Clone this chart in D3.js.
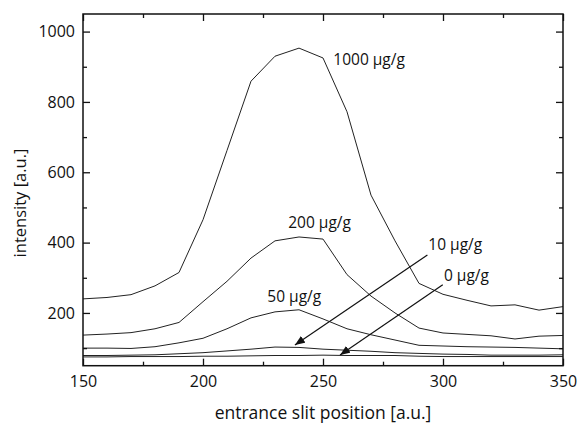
<!DOCTYPE html>
<html>
<head>
<meta charset="utf-8">
<script src="https://cdn.jsdelivr.net/npm/d3@7"></script>
<style>
  html, body { margin: 0; padding: 0; background: #fff; }
  svg { display: block; }
  text { font-family: "Open Sans", "Noto Sans", sans-serif; fill: #111; }
</style>
</head>
<body>
<svg id="chart" width="578" height="423"></svg>
<script>
// ---- data ----
const positions = [150,160,170,180,190,200,210,220,230,240,250,260,270,280,290,300,310,320,330,340,350];
const conc1000 = [240,244,252,277,315,465,662,859,930,953,925,772,535,405,284,253,236,220,223,208,218];
const conc200  = [137,140,144,155,173,232,290,356,405,416,410,309,248,200,157,143,139,135,126,134,136];
const conc50   = [100,100,99,104,115,128,155,186,203,209,183,155,138,123,108,106,104,103,102,100,98];
const conc10   = [79,79,80,81,84,87,92,97,103,102,97,94,91,87,85,83,82,80,80,80,81];
const conc0    = [75,75,76,76,76,77,77,78,79,79,80,79,79,79,77,76,76,76,76,76,76];
const seriesNames = ["1000 µg/g","200 µg/g","50 µg/g","10 µg/g","0 µg/g"];
const seriesValues = [conc1000, conc200, conc50, conc10, conc0];
// label anchor points (data coords): [x, y]
const labelPos = [[254.3,921],[235.5,458],[226.8,246],[293.9,395],[300.4,306]];
// arrows for the two low series (data coords): [fromX, fromY, toX, toY]
const arrows = [[293.5,365,238.3,109],[299.9,280,257.1,80.5]];
const xTicks = [150,200,250,300,350];
const xMinor = [175,225,275,325];
const yTicks = [200,400,600,800,1000];
const yMinor = [100,300,500,700,900];
const xTitle = "entrance slit position [a.u.]";
const yTitle = "intensity [a.u.]";

// ---- layout ----
const L = 83, R = 563, T = 14, B = 365.7;
const FONT = "'Open Sans', 'Noto Sans', sans-serif";
const svg = d3.select("#chart");
const x = d3.scaleLinear().domain([150,350]).range([L,R]);
const y = d3.scaleLinear().domain([50,1050]).range([B,T]);

const defs = svg.append("defs");
defs.append("marker")
  .attr("id","arrowhead").attr("viewBox","0 0 10 8")
  .attr("refX",10).attr("refY",4)
  .attr("markerWidth",10).attr("markerHeight",8)
  .attr("markerUnits","userSpaceOnUse")
  .attr("orient","auto")
  .append("path").attr("d","M0,0 L10,4 L0,8 Z").attr("fill","#111");

// curves
const line = d3.line().x((d,i)=>x(positions[i])).y(d=>y(d));
svg.append("g").selectAll("path").data(seriesValues).join("path")
  .attr("d", line).attr("fill","none").attr("stroke","#222").attr("stroke-width",1);

// arrows
svg.append("g").selectAll("line").data(arrows).join("line")
  .attr("x1",d=>x(d[0])).attr("y1",d=>y(d[1]))
  .attr("x2",d=>x(d[2])).attr("y2",d=>y(d[3]))
  .attr("stroke","#111").attr("stroke-width",1.2)
  .attr("marker-end","url(#arrowhead)");

// labels
svg.append("g").selectAll("text").data(seriesNames).join("text")
  .attr("x",(d,i)=>x(labelPos[i][0])).attr("y",(d,i)=>y(labelPos[i][1]))
  .attr("dy","0.36em").attr("font-size",15.5).attr("font-weight",500).text(d=>d);

// axes
function styleAxis(g){
  g.select(".domain").remove();
  g.selectAll(".tick line").attr("stroke","#111").attr("stroke-width",1.3);
  g.selectAll(".tick text").attr("font-size",16).attr("fill","#111")
    .attr("font-weight",500).attr("font-family",FONT);
}
svg.append("g").attr("transform",`translate(0,${B})`)
  .call(d3.axisBottom(x).tickValues(xTicks).tickSize(-7).tickPadding(9.5).tickFormat(d3.format("d")))
  .call(styleAxis);
svg.append("g").attr("transform",`translate(0,${B})`)
  .call(d3.axisBottom(x).tickValues(xMinor).tickSize(-4).tickFormat(""))
  .call(styleAxis);
svg.append("g").attr("transform",`translate(0,${T})`)
  .call(d3.axisTop(x).tickValues(xTicks).tickSize(-7).tickFormat(""))
  .call(styleAxis);
svg.append("g").attr("transform",`translate(0,${T})`)
  .call(d3.axisTop(x).tickValues(xMinor).tickSize(-4).tickFormat(""))
  .call(styleAxis);
svg.append("g").attr("transform",`translate(${L},0)`)
  .call(d3.axisLeft(y).tickValues(yTicks).tickSize(-7).tickPadding(8).tickFormat(d3.format("d")))
  .call(styleAxis);
svg.append("g").attr("transform",`translate(${L},0)`)
  .call(d3.axisLeft(y).tickValues(yMinor).tickSize(-4).tickFormat(""))
  .call(styleAxis);
svg.append("g").attr("transform",`translate(${R},0)`)
  .call(d3.axisRight(y).tickValues(yTicks).tickSize(-7).tickFormat(""))
  .call(styleAxis);
svg.append("g").attr("transform",`translate(${R},0)`)
  .call(d3.axisRight(y).tickValues(yMinor).tickSize(-4).tickFormat(""))
  .call(styleAxis);

// frame
svg.append("rect").attr("x",L).attr("y",T).attr("width",R-L).attr("height",B-T)
  .attr("fill","none").attr("stroke","#111").attr("stroke-width",1.5);

// titles
svg.append("text").attr("x",(L+R)/2).attr("y",413).attr("dy","0.35em")
  .attr("text-anchor","middle").attr("font-size",17.5).attr("font-weight",500).text(xTitle);
svg.append("text").attr("transform","translate(20,203) rotate(-90)")
  .attr("dy","0.35em").attr("text-anchor","middle").attr("font-size",16.5).attr("font-weight",500).text(yTitle);
</script>
</body>
</html>
